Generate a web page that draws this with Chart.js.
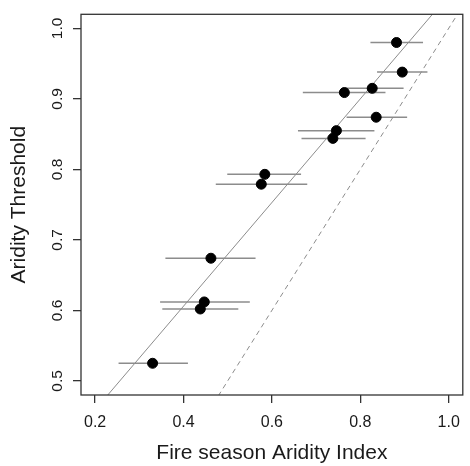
<!DOCTYPE html>
<html>
<head>
<meta charset="utf-8">
<script src="https://cdn.jsdelivr.net/npm/chart.js@4.4.1/dist/chart.umd.min.js"></script>
<style>
  body { margin: 0; background: #fff; }
  canvas { display: block; }
</style>
</head>
<body>
<canvas id="chart" width="470" height="466"></canvas>
<script>
// values
const aridity   = [0.882, 0.895, 0.827, 0.764, 0.836, 0.746, 0.738, 0.584, 0.576, 0.462, 0.447, 0.438, 0.330];
const threshold = [0.980, 0.938, 0.915, 0.909, 0.874, 0.855, 0.844, 0.793, 0.779, 0.674, 0.612, 0.602, 0.525];
const aridityLow  = [0.823, 0.838, 0.769, 0.670, 0.769, 0.659, 0.667, 0.499, 0.473, 0.359, 0.347, 0.352, 0.253];
const aridityHigh = [0.942, 0.952, 0.898, 0.857, 0.906, 0.832, 0.812, 0.666, 0.680, 0.563, 0.550, 0.524, 0.410];

const xTicks = [0.2, 0.4, 0.6, 0.8, 1.0];
const yTicks = [0.5, 0.6, 0.7, 0.8, 0.9, 1.0];

// fitted line and 1:1 line (intercept, slope)
const fitLine = [0.312, 0.735];
const oneToOne = [0, 1];

const lineEnds = [0.1, 1.1];
const FONT = "'Liberation Sans', Arial, sans-serif";
const GREY = "#8c8c8c";

function linePoints(coef) {
  return lineEnds.map((x) => ({ x: x, y: coef[0] + coef[1] * x }));
}

const errorBars = {
  id: "errorBars",
  beforeDatasetsDraw(chart) {
    const { ctx, scales } = chart;
    ctx.save();
    ctx.strokeStyle = GREY;
    ctx.lineWidth = 1.5;
    threshold.forEach((t, i) => {
      const py = scales.y.getPixelForValue(t);
      ctx.beginPath();
      ctx.moveTo(scales.x.getPixelForValue(aridityLow[i]), py);
      ctx.lineTo(scales.x.getPixelForValue(aridityHigh[i]), py);
      ctx.stroke();
    });
    ctx.restore();
  },
  afterDraw(chart) {
    const { ctx, chartArea: a } = chart;
    ctx.save();
    ctx.strokeStyle = "#333";
    ctx.lineWidth = 1.3;
    ctx.strokeRect(a.left, a.top, a.right - a.left, a.bottom - a.top);
    ctx.restore();
  },
};

new Chart(document.getElementById("chart"), {
  type: "scatter",
  data: {
    datasets: [
      {
        data: aridity.map((x, i) => ({ x: x, y: threshold[i] })),
        backgroundColor: "#000",
        borderColor: "#000",
        pointRadius: 5,
      },
      {
        type: "line",
        data: linePoints(fitLine),
        borderColor: GREY,
        borderWidth: 1,
        pointRadius: 0,
      },
      {
        type: "line",
        data: linePoints(oneToOne),
        borderColor: GREY,
        borderWidth: 1,
        borderDash: [5, 4],
        pointRadius: 0,
      },
    ],
  },
  options: {
    responsive: false,
    animation: false,
    layout: { padding: { top: 11, right: 2, left: 0, bottom: 0 } },
    plugins: { legend: { display: false }, tooltip: { enabled: false } },
    scales: {
      x: {
        type: "linear",
        min: 0.168,
        max: 1.032,
        afterBuildTicks: (s) => { s.ticks = xTicks.map((v) => ({ value: v })); },
        afterFit: (s) => { s.height = 71; },
        border: { display: false },
        grid: { drawOnChartArea: false, tickLength: 8, color: "#333", lineWidth: 1.3 },
        ticks: {
          font: { family: FONT, size: 16 },
          color: "#1a1a1a",
          padding: 10,
          maxRotation: 0,
          callback: (v) => v.toFixed(1),
        },
        title: {
          display: true,
          text: "Fire season Aridity Index",
          font: { family: FONT, size: 21 },
          color: "#1a1a1a",
          padding: { top: 0, bottom: 0 },
        },
      },
      y: {
        type: "linear",
        min: 0.48,
        max: 1.02,
        afterBuildTicks: (s) => { s.ticks = yTicks.map((v) => ({ value: v })); },
        afterFit: (s) => { s.width = 81; },
        border: { display: false },
        grid: { drawOnChartArea: false, tickLength: 8, color: "#333", lineWidth: 1.3 },
        ticks: {
          font: { family: FONT, size: 15.5 },
          color: "#1a1a1a",
          padding: 5,
          minRotation: 90,
          maxRotation: 90,
          crossAlign: "center",
          callback: (v) => v.toFixed(1),
        },
        title: {
          display: true,
          text: "Aridity Threshold",
          font: { family: FONT, size: 21 },
          color: "#1a1a1a",
          padding: { top: 7, bottom: 0 },
        },
      },
    },
  },
  plugins: [errorBars],
});
</script>
</body>
</html>
